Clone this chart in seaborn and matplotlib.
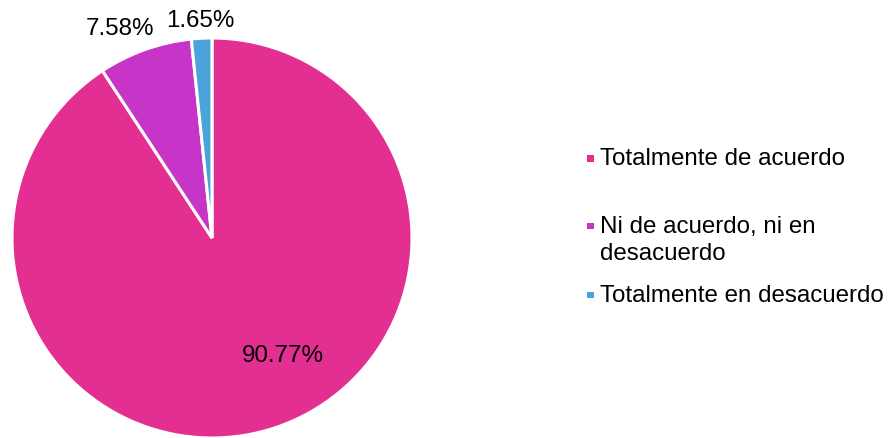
import matplotlib
matplotlib.use("Agg")
import matplotlib.pyplot as plt
from matplotlib.patches import Rectangle
import seaborn as sns

categorias = ["Totalmente de acuerdo", "Ni de acuerdo, ni en\ndesacuerdo", "Totalmente en desacuerdo"]
porcentajes = [90.77, 7.58, 1.65]
etiquetas = ["90.77%", "7.58%", "1.65%"]
colores = ["#E32F91", "#C634C8", "#4AA4DB"]

sns.set_theme(style="white")
plt.rcParams["font.family"] = ["Liberation Sans", "DejaVu Sans"]

W, H = 889, 438
fig = plt.figure(figsize=(W / 100, H / 100), dpi=100)
ax = fig.add_axes([0, 0, 1, 1])

# pastel, en coordenadas de pixel
ax.pie(porcentajes, colors=colores, startangle=90, counterclock=False,
       center=(212, 200), radius=200,
       wedgeprops=dict(edgecolor="white", linewidth=2.2))

# pie() cambia los limites, se fijan despues
ax.set_xlim(0, W)
ax.set_ylim(0, H)
ax.set_aspect("equal")
ax.axis("off")

# etiquetas de porcentaje (posiciones como en el original)
pos_etq = [(282.5, 76), (120, 403), (200, 411)]
for t, (x, y) in zip(etiquetas, pos_etq):
    ax.text(x, y, t, ha="center", va="baseline", fontsize=17.4, color="black")

# leyenda manual
base_y = [273, 205, 136]
marca_y = [279.5, 212, 143]
for cat, col, by, my in zip(categorias, colores, base_y, marca_y):
    ax.add_patch(Rectangle((587, my - 3.3), 6.6, 6.6, color=col, lw=0))
    for i, linea in enumerate(cat.split("\n")):
        ax.text(600, by - i * 27, linea, ha="left", va="baseline",
                fontsize=17.4, color="black")

fig.savefig("out.png", dpi=100, facecolor="white")
